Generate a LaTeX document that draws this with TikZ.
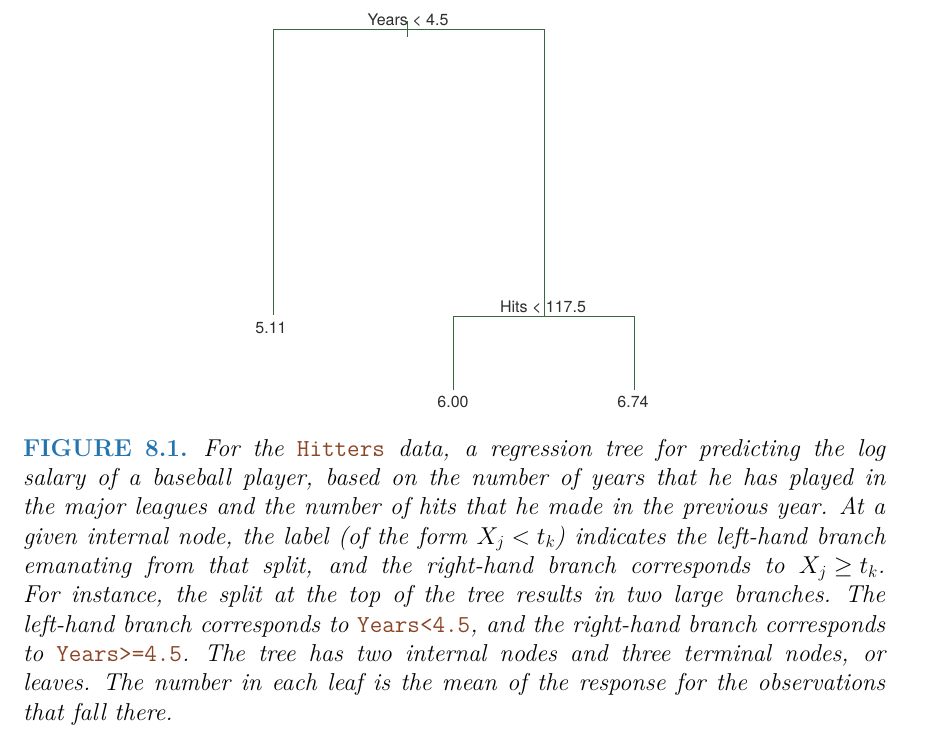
\RequirePackage{fix-cm}
\documentclass[tikz,border=0pt]{standalone}
\usepackage{fontspec}
\DeclareMathSizes{24.4}{24.4}{17}{12.2}
\newfontfamily\treefont{TeX Gyre Heros}
\definecolor{treegreen}{RGB}{58,104,62}
\definecolor{labelgray}{RGB}{45,45,45}
\definecolor{figblue}{RGB}{36,116,176}
\definecolor{codebrown}{RGB}{140,70,38}
\newcommand{\capline}[1]{\hbox to 862pt{\spaceskip=0.357em plus 0.5em minus 0.1em\relax
  \xspaceskip=0.45em plus 0.5em minus 0.1em\relax #1}}
\newcommand{\code}[1]{{\ttfamily\upshape\color{codebrown}#1}}
\newcommand{\capsetup}{\fontsize{24.4}{29.3}\selectfont\itshape
  \thickmuskip=5mu\relax\medmuskip=4mu\relax}
\begin{document}
\begin{tikzpicture}[x=1pt,y=-1pt,
  branch/.style={draw=treegreen,line width=0.9pt},
  splitlabel/.style={font=\treefont\fontsize{16}{18}\selectfont,text=labelgray,inner sep=0pt,anchor=base},
  leaflabel/.style={font=\treefont\fontsize{16}{18}\selectfont,text=labelgray,inner sep=0pt,anchor=base}]
\useasboundingbox (0,0) rectangle (932,736);
% split 1
\coordinate (s1L) at (273,29);
\coordinate (s1R) at (544,29);
\coordinate (s1tickA) at (407,21);
\coordinate (s1tickB) at (407,37);
\node[splitlabel] (lab1) at (408,25) {Years < 4.5};
% split 2
\coordinate (s2) at (544,316);
\coordinate (s2L) at (453,316);
\coordinate (s2R) at (634,316);
\node[splitlabel] (lab2) at (543,312) {Hits < 117.5};
% leaves
\coordinate (e1) at (273,315);
\coordinate (e2) at (453,390);
\coordinate (e3) at (634,390);
\node[leaflabel] (leaf1) at (271,333) {5.11};
\node[leaflabel] (leaf2) at (453,407) {6.00};
\node[leaflabel] (leaf3) at (633,407) {6.74};
% branches
\draw[branch] (e1) -- (s1L) -- (s1R) -- (s2);
\draw[branch] (s1tickA) -- (s1tickB);
\draw[branch] (e2) -- (s2L) -- (s2R) -- (e3);
% caption
\node[anchor=north west,inner sep=0pt,text width=862pt,align=justify,
  font=\capsetup] (caption) at (23,439) {%
\capline{{\upshape\bfseries\color{figblue}FIGURE 8.1.} For the \code{Hitters} data, a regression tree for predicting the log}
\capline{salary of a baseball player, based on the number of years that he has played in}
\capline{the major leagues and the number of hits that he made in the previous year. At a}
\capline{given internal node, the label (of the form $X_j<t_k$) indicates the left-hand branch}
\capline{emanating from that split, and the right-hand branch corresponds to $X_j\geq t_k$.}
\capline{For instance, the split at the top of the tree results in two large branches. The}
\capline{left-hand branch corresponds to \code{Years<4.5}, and the right-hand branch corresponds}
\capline{to \code{Years>=4.5}. The tree has two internal nodes and three terminal nodes, or}
\capline{leaves. The number in each leaf is the mean of the response for the observations}
\hbox{\spaceskip=0.357em\relax\xspaceskip=0.45em\relax that fall there.}};
\end{tikzpicture}
\end{document}
